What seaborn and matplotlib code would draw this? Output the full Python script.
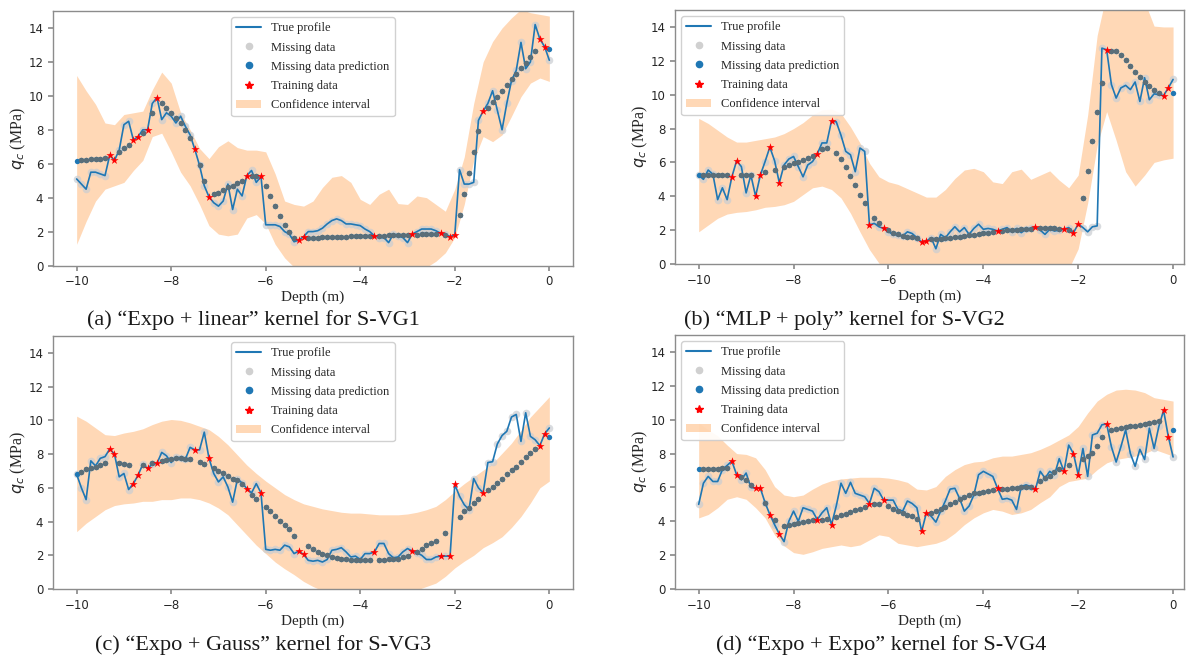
import numpy as np
import matplotlib
matplotlib.use("Agg")
import matplotlib.pyplot as plt
import seaborn as sns
from matplotlib.lines import Line2D
from matplotlib.patches import Patch

N = np.nan

# ---------------- data ----------------
DEPTH = np.round(np.arange(-10.0, 0.001, 0.1), 1)      # 101 depths (m)
CI_DEPTH = np.round(np.arange(-10.0, 0.001, 0.2), 1)   # 51 depths for the confidence band
TRAIN_DEPTHS = [-9.3, -9.2, -8.8, -8.7, -8.5, -8.3, -7.5, -7.2, -6.4, -6.1,
                -5.3, -5.2, -3.7, -2.9, -2.3, -2.1, -2.0, -1.4, -0.2, -0.1]

A_TRUE = [5.1, 4.8, 4.5, 5.5, 5.5, 5.4, 5.3, 6.5, 6.2, 6.8,
          8.3, 8.5, 7.4, 7.6, 8.0, 8.0, 9.55, 9.9, 8.6, 9.0,
          8.8, 8.4, 8.8, 8.2, 7.7, 6.85, 5.9, 4.7, 4.05, 3.7,
          3.5, 3.8, 4.8, 3.3, 4.5, 4.1, 5.3, 5.6, 4.9, 5.25,
          2.4, 2.4, 2.4, 2.3, 2.0, 1.85, 1.4, 1.5, 1.7, 2.0,
          2.0, 2.05, 2.2, 2.45, 2.65, 2.75, 2.65, 2.45, 2.45, 2.4,
          2.35, 2.15, 2.0, 1.75, 1.65, 1.65, 1.35, 1.85, 1.75, 1.65,
          1.35, 1.85, 2.0, 2.15, 2.15, 2.15, 2.05, 1.9, 1.85, 1.7,
          1.8, 5.65, 4.8, 4.8, 4.9, 8.55, 9.1, 9.55, 10.3, 9.15,
          8.0, 9.55, 10.9, 11.5, 13.15, 11.6, 12.0, 14.2, 13.35, 12.9,
          12.1]
A_PRED = [6.15, 6.2, 6.22, 6.25, 6.28, 6.3, 6.35, N, N, 6.7,
          6.9, 7.1, N, N, 7.8, N, 9.0, N, 9.55, 9.3,
          9.0, 8.7, 8.4, 8.0, 7.5, N, 5.9, 5.0, N, 4.2,
          4.3, 4.45, 4.6, 4.7, 4.85, 5.0, N, 5.25, 5.25, N,
          4.7, 4.1, 3.5, 2.9, 2.4, 1.95, 1.65, N, N, 1.65,
          1.65, 1.65, 1.66, 1.67, 1.68, 1.69, 1.7, 1.7, 1.71, 1.72,
          1.72, 1.73, 1.74, N, 1.75, 1.76, 1.77, 1.78, 1.78, 1.79,
          1.8, N, 1.82, 1.83, 1.84, 1.85, 1.86, N, 1.8, N,
          N, 3.0, 4.2, 5.45, 6.7, 7.9, N, 9.3, 9.65, 9.95,
          10.3, 10.65, 11.0, 11.3, 11.65, 11.95, 12.3, 12.65, N, N,
          12.75]
A_UP = [11.2, 10.3, 9.5, 8.4, 8.3, 8.9, 9.0, 9.1, 10.35, 11.4,
        10.75, 9.0, 8.0, 6.9, 6.3, 7.0, 7.35, 6.95, 6.8, 6.8,
        6.7, 5.4, 3.8, 3.6, 3.5, 3.8, 4.6, 5.2, 5.3, 4.9,
        3.9, 3.6, 4.2, 4.5, 3.65, 3.6, 4.1, 4.0, 3.6, 3.2,
        4.5, 6.4, 9.55, 12.0, 13.2, 14.0, 14.6, 15.1, 14.9, 14.8,
        14.7]
A_LO = [1.25, 2.6, 3.8, 4.5, 4.7, 4.9, 5.6, 6.2, 7.6, 7.8,
        6.7, 5.5, 4.7, 3.6, 2.35, 1.85, 1.75, 1.85, 2.8, 3.0,
        2.45, 1.25, 0.45, -0.1, -0.4, -0.6, -0.7, -0.7, -0.6, -0.5,
        -0.5, -0.6, -0.7, -0.7, -0.6, -0.5, -0.3, -0.1, 0.25, 0.75,
        1.65, 3.6, 6.2, 7.6, 7.3, 7.7, 8.8, 9.95, 10.75, 11.05,
        10.85]

B_TRUE = [5.25, 5.0, 5.55, 5.3, 3.8, 4.5, 3.8, 5.15, 6.1, 5.75,
          4.2, 5.25, 4.0, 5.25, 6.05, 6.9, 6.1, 4.8, 5.85, 6.2,
          6.35, 5.75, 5.15, 5.85, 6.05, 6.5, 7.15, 7.15, 8.45, 8.4,
          7.6, 6.65, 6.45, 5.45, 6.85, 6.65, 2.3, 2.4, 2.2, 2.1,
          1.9, 1.75, 1.7, 1.65, 1.9, 1.8, 1.55, 1.3, 1.35, 1.55,
          0.9, 1.75, 1.55, 1.9, 2.2, 1.9, 2.15, 1.75, 2.1, 2.35,
          2.05, 2.1, 2.05, 1.95, 2.05, 2.15, 1.9, 2.1, 1.85, 2.05,
          2.1, 2.2, 2.0, 1.75, 2.05, 1.95, 2.0, 2.05, 2.15, 1.85,
          2.35, 2.15, 1.9, 2.2, 2.25, 12.75, 12.65, 10.6, 9.8, 10.4,
          10.55, 10.3, 10.75, 9.6, 11.0, 9.7, 10.05, 10.0, 9.95, 10.4,
          10.9]
B_PRED = [5.25, 5.25, 5.25, 5.25, 5.25, 5.25, 5.25, N, N, 5.25,
          5.25, 5.25, N, N, 5.45, N, 5.55, N, 5.7, 5.85,
          5.95, 6.05, 6.15, 6.25, 6.4, N, 6.8, 6.85, N, 6.55,
          6.2, 5.75, 5.2, 4.65, 4.1, 3.6, N, 2.7, 2.45, N,
          2.0, 1.85, 1.75, 1.65, 1.6, 1.6, 1.55, N, N, 1.5,
          1.48, 1.5, 1.52, 1.55, 1.58, 1.62, 1.65, 1.7, 1.74, 1.78,
          1.82, 1.86, 1.9, N, 1.95, 1.98, 2.0, 2.03, 2.05, 2.07,
          2.09, N, 2.12, 2.12, 2.12, 2.1, 2.08, N, 2.0, N,
          N, 3.9, 5.5, 7.25, 9.0, 10.7, N, 12.6, 12.55, 12.35,
          12.05, 11.7, 11.35, 11.05, 10.75, 10.5, 10.25, 10.1, N, N,
          10.1]
B_UP = [8.6, 8.3, 7.9, 7.5, 7.2, 7.2, 7.3, 7.4, 7.5, 7.7,
        8.0, 8.35, 8.8, 9.1, 9.15, 8.9, 8.1, 7.15, 5.95, 5.15,
        4.85, 4.7, 4.45, 4.2, 3.95, 3.95, 4.4, 5.05, 5.55, 5.65,
        5.45, 4.85, 4.75, 5.45, 5.6, 5.0, 5.25, 5.5, 4.95, 4.5,
        5.25, 8.8, 13.5, 16.0, 17.0, 17.0, 16.5, 15.5, 14.05, 14.0,
        14.0]
B_LO = [1.9, 2.3, 2.7, 2.95, 3.05, 3.1, 3.2, 3.35, 3.4, 3.5,
        3.7, 4.1, 4.5, 4.6, 4.4, 3.9, 3.0, 1.9, 0.85, 0.05,
        -0.6, -1.0, -1.0, -1.0, -1.0, -1.0, -1.0, -1.0, -1.0, -1.0,
        -1.0, -1.0, -1.0, -1.0, -1.0, -1.0, -1.0, -0.9, -0.6, -0.3,
        0.9, 3.6, 7.0, 9.0, 7.3, 5.45, 4.6, 5.25, 6.0, 6.15,
        6.25]

C_TRUE = [6.8, 6.0, 5.3, 7.6, 7.3, 7.75, 7.85, 8.3, 8.0, 6.65,
          6.85, 5.9, 6.25, 6.75, 7.4, 7.15, 7.4, 7.45, 8.1, 7.9,
          7.5, 7.8, 7.75, 7.7, 8.4, 8.25, 8.25, 9.3, 7.75, 6.85,
          6.35, 6.65, 6.05, 5.15, 6.5, 6.3, 5.95, 5.7, 6.25, 5.7,
          2.35, 2.3, 2.35, 2.3, 2.6, 2.5, 2.1, 2.25, 2.05, 1.7,
          1.65, 1.7, 1.6, 1.75, 2.3, 2.35, 2.45, 2.2, 1.9, 1.95,
          1.75, 2.1, 2.1, 2.2, 2.7, 2.7, 2.1, 1.85, 1.9, 2.2,
          2.4, 2.25, 2.15, 2.0, 1.75, 1.75, 1.9, 1.95, 1.95, 1.95,
          6.2, 5.5, 5.0, 4.7, 6.55, 6.0, 5.7, 7.5, 7.55, 8.6,
          9.1, 9.35, 10.2, 10.35, 8.75, 10.45, 9.05, 8.85, 8.5, 9.2,
          9.55]
C_PRED = [6.8, 6.95, 7.1, 7.2, 7.25, 7.35, 7.45, N, N, 7.5,
          7.4, 7.35, N, N, 7.35, N, 7.5, N, 7.6, 7.65,
          7.7, 7.75, 7.75, 7.7, 7.7, N, 7.55, 7.4, N, 7.15,
          7.0, 6.85, 6.7, 6.55, 6.45, 6.25, N, 5.55, 5.35, N,
          4.85, 4.6, 4.35, 4.05, 3.8, 3.55, 3.15, N, N, 2.55,
          2.35, 2.2, 2.1, 2.0, 1.9, 1.85, 1.8, 1.75, 1.72, 1.72,
          1.72, 1.72, 1.72, N, 1.72, 1.72, 1.75, 1.75, 1.8, 1.9,
          1.95, N, 2.2, 2.4, 2.6, 2.75, 2.85, N, 3.35, N,
          N, 4.25, 4.6, 4.8, 5.1, 5.35, N, 5.9, 6.05, 6.3,
          6.55, 6.8, 7.05, 7.25, 7.55, 7.8, 8.05, 8.3, N, N,
          9.0]
C_UP = [10.25, 9.95, 9.55, 9.15, 9.1, 9.25, 9.35, 9.5, 9.75, 9.95,
        10.05, 10.0, 9.85, 9.65, 9.45, 9.05, 8.55, 7.95, 7.35, 6.85,
        6.4, 6.0, 5.6, 5.3, 5.05, 4.9, 4.75, 4.65, 4.55, 4.5,
        4.5, 4.45, 4.4, 4.4, 4.4, 4.45, 4.55, 4.7, 4.9, 5.3,
        5.8, 6.25, 6.65, 7.05, 7.45, 8.05, 8.65, 9.4, 10.2, 10.8,
        11.4]
C_LO = [3.4, 3.9, 4.3, 4.7, 4.95, 5.05, 5.1, 5.2, 5.2, 5.3,
        5.3, 5.4, 5.4, 5.3, 5.1, 4.8, 4.4, 3.8, 3.2, 2.6,
        2.1, 1.6, 1.2, 0.85, 0.45, 0.15, -0.1, -0.3, -0.4, -0.5,
        -0.5, -0.5, -0.5, -0.45, -0.35, -0.2, -0.05, 0.15, 0.35, 0.75,
        1.25, 1.65, 2.0, 2.45, 2.75, 3.1, 3.65, 4.3, 5.1, 6.0,
        6.4]

D_TRUE = [5.0, 6.25, 6.65, 6.35, 6.35, 7.05, 7.3, 7.55, 6.75, 6.45,
          6.85, 6.0, 5.95, 5.95, 5.1, 4.4, 3.8, 3.25, 2.8, 4.0,
          4.6, 4.0, 4.8, 4.7, 4.6, 4.1, 4.5, 4.8, 3.8, 4.9,
          6.25, 5.65, 6.3, 5.65, 5.55, 5.45, 5.05, 5.95, 5.75, 5.25,
          5.25, 5.25, 4.7, 4.6, 5.2, 5.05, 4.8, 3.4, 4.5, 4.3,
          3.95, 4.6, 5.2, 5.9, 5.95, 5.35, 4.6, 4.9, 5.55, 6.75,
          6.95, 6.8, 6.65, 5.95, 5.3, 5.35, 5.25, 4.7, 6.05, 6.15,
          6.05, 5.9, 6.95, 6.55, 6.95, 6.75, 7.7, 6.95, 8.5, 8.0,
          6.75, 8.3, 6.65, 9.1, 9.2, 9.7, 9.75, 8.4, 7.5, 8.4,
          9.4, 8.0, 7.25, 8.25, 7.65, 9.5, 8.3, 9.6, 10.55, 9.0,
          7.8]
D_PRED = [7.1, 7.1, 7.1, 7.1, 7.1, 7.12, 7.15, N, N, 6.6,
          6.45, 6.15, N, N, 5.1, N, 4.1, N, 3.75, 3.8,
          3.85, 3.9, 3.95, 4.0, 4.05, N, 4.1, 4.15, N, 4.25,
          4.35, 4.45, 4.55, 4.65, 4.75, 4.85, N, 5.0, 5.05, N,
          4.9, 4.75, 4.6, 4.5, 4.4, 4.3, 4.15, N, N, 4.5,
          4.6, 4.7, 4.85, 5.0, 5.15, 5.3, 5.45, 5.55, 5.65, 5.7,
          5.75, 5.8, 5.85, N, 5.9, 5.92, 5.95, 5.97, 6.0, 6.0,
          6.05, N, 6.35, 6.55, 6.7, 6.9, 7.1, N, 7.3, N,
          N, 7.65, 7.85, 8.05, 8.45, 9.0, N, 9.4, 9.45, 9.5,
          9.55, 9.6, 9.65, 9.7, 9.75, 9.8, 9.85, 9.9, N, N,
          9.4]
D_UP = [9.8, 9.4, 9.05, 8.5, 8.0, 7.95, 7.75, 7.05, 6.05, 5.55,
        5.45, 5.55, 5.9, 6.2, 6.4, 6.5, 6.55, 6.6, 6.6, 6.6,
        6.55, 6.45, 6.3, 5.9, 5.85, 6.05, 6.65, 7.05, 7.35, 7.5,
        7.55, 7.75, 7.85, 7.85, 7.95, 8.05, 8.25, 8.5, 8.8, 9.1,
        9.6, 10.4, 11.1, 11.5, 11.75, 11.8, 11.75, 11.6, 11.3, 11.2,
        11.1]
D_LO = [4.2, 4.4, 4.8, 5.3, 5.45, 5.3, 4.8, 4.2, 3.2, 2.55,
        2.15, 2.05, 2.2, 2.4, 2.5, 2.6, 2.5, 2.6, 2.9, 3.2,
        3.1, 2.7, 2.6, 2.5, 2.6, 2.7, 2.9, 3.3, 3.8, 4.2,
        4.5, 4.7, 4.6, 4.4, 4.5, 4.7, 5.1, 5.45, 6.05, 6.35,
        6.45, 6.55, 7.05, 7.45, 7.65, 7.75, 7.85, 8.0, 8.25, 8.05,
        7.85]

CAPTIONS = ["(a) \u201cExpo + linear\u201d kernel for S-VG1",
            "(b) \u201cMLP + poly\u201d kernel for S-VG2",
            "(c) \u201cExpo + Gauss\u201d kernel for S-VG3",
            "(d) \u201cExpo + Expo\u201d kernel for S-VG4"]
LEGEND_LABELS = ["True profile", "Missing data", "Missing data prediction",
                 "Training data", "Confidence interval"]
X_TICKS = [-10, -8, -6, -4, -2, 0]
Y_TICKS = [0, 2, 4, 6, 8, 10, 12, 14]

# ---------------- style ----------------
sns.set_theme(style="ticks")
plt.rcParams.update({
    "font.family": ["DejaVu Sans"],
    "mathtext.fontset": "dejavusans",
    "axes.edgecolor": "#8c8c8c",
    "axes.linewidth": 1.0,
    "xtick.color": "#8c8c8c",
    "ytick.color": "#8c8c8c",
    "xtick.labelcolor": "#262626",
    "ytick.labelcolor": "#262626",
    "xtick.labelsize": 8.5,
    "ytick.labelsize": 8.5,
    "xtick.major.size": 3.5,
    "ytick.major.size": 3.5,
})
SERIF = "Liberation Serif"
BLUE = "#1f77b4"
SLATE = "#5b6e78"
ORANGE = "#ff7f0e"

fig = plt.figure(figsize=(11.86, 6.59), dpi=100)
rects = [
    (0.0447, 0.5971, 0.4384, 0.3862),
    (0.5691, 0.5994, 0.4292, 0.3854),
    (0.0447, 0.1062, 0.4384, 0.3839),
    (0.5691, 0.1062, 0.4292, 0.3854),
]
xlims = [(-10.5, 0.5), (-10.5, 0.23), (-10.5, 0.5), (-10.5, 0.23)]
legend_locs = ["upper center", "upper left", "upper center", "upper left"]
caption_pos = [(0.214, 0.514), (0.712, 0.514), (0.222, 0.021), (0.743, 0.021)]

panels = [(A_TRUE, A_PRED, A_UP, A_LO), (B_TRUE, B_PRED, B_UP, B_LO),
          (C_TRUE, C_PRED, C_UP, C_LO), (D_TRUE, D_PRED, D_UP, D_LO)]

train_mask = np.array([any(abs(d - t) < 1e-6 for t in TRAIN_DEPTHS) for d in DEPTH])
miss_mask = ~train_mask

for k, (tr, pr, up, lo) in enumerate(panels):
    tr = np.asarray(tr, float)
    pr = np.asarray(pr, float)
    ax = fig.add_axes(rects[k])
    ax.fill_between(CI_DEPTH, lo, up, color=ORANGE, alpha=0.3, lw=0, zorder=1)
    # missing data (true values at missing depths)
    sns.scatterplot(x=DEPTH[miss_mask], y=tr[miss_mask], color="#c9cdd2", s=30,
                    alpha=0.7, linewidth=0, ax=ax, zorder=2, legend=False)
    sns.lineplot(x=DEPTH, y=tr, color=BLUE, lw=1.2, ax=ax, zorder=3,
                 sort=False, estimator=None, legend=False)
    pm = miss_mask & ~np.isnan(pr)
    sns.scatterplot(x=DEPTH[pm], y=pr[pm], color=BLUE, s=15, linewidth=0,
                    ax=ax, zorder=4, legend=False)
    inner = pm.copy()
    inner[0] = False
    inner[-1] = False
    sns.scatterplot(x=DEPTH[inner], y=pr[inner], color=SLATE, s=15, linewidth=0,
                    ax=ax, zorder=4.5, legend=False)
    sns.scatterplot(x=DEPTH[train_mask], y=tr[train_mask], color="red", marker="*",
                    s=38, linewidth=0, ax=ax, zorder=5, legend=False)

    ax.set_xlim(*xlims[k])
    ax.set_ylim(0, 15)
    ax.set_xticks(X_TICKS)
    ax.set_yticks(Y_TICKS)
    ax.set_xlabel("Depth (m)", fontfamily=SERIF, fontsize=11, color="#262626",
                  labelpad=2)
    ax.set_ylabel("$q_c$ (MPa)", fontfamily=SERIF, fontsize=11.5, color="#262626",
                  labelpad=0)

    handles = [
        Line2D([], [], color=BLUE, lw=1.5),
        Line2D([], [], ls="", marker="o", color="#d0d0d0", ms=4.5),
        Line2D([], [], ls="", marker="o", color=BLUE, ms=4.5),
        Line2D([], [], ls="", marker="*", color="red", ms=6),
        Patch(facecolor=ORANGE, alpha=0.3, edgecolor="none"),
    ]
    leg = ax.legend(handles, LEGEND_LABELS, loc=legend_locs[k],
                    prop={"family": SERIF, "size": 9}, frameon=True,
                    edgecolor="#cccccc", framealpha=0.9, fancybox=True,
                    labelspacing=0.58)
    for t in leg.get_texts():
        t.set_color("#262626")

    fig.text(caption_pos[k][0], caption_pos[k][1], CAPTIONS[k], ha="center",
             va="center", fontfamily=SERIF, fontsize=16, color="#1a1a1a")

fig.savefig("out.png", dpi=100)
